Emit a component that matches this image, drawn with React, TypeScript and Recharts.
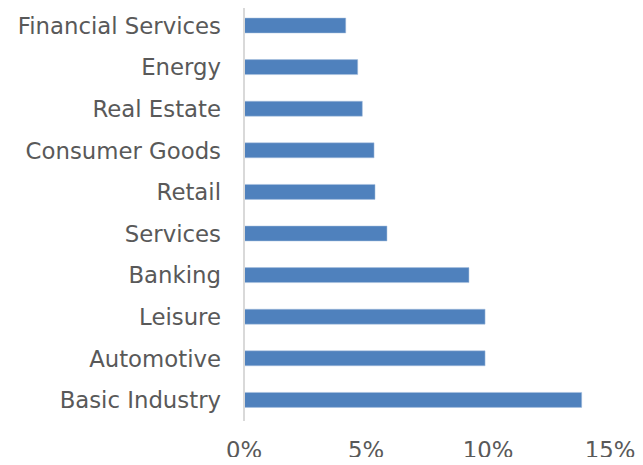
import React from 'react';
import { BarChart, Bar, XAxis, YAxis } from 'recharts';

const sectors = [
  'Financial Services',
  'Energy',
  'Real Estate',
  'Consumer Goods',
  'Retail',
  'Services',
  'Banking',
  'Leisure',
  'Automotive',
  'Basic Industry',
];

const weights = [0.0417, 0.0466, 0.0485, 0.0533, 0.0537, 0.0586, 0.0922, 0.0988, 0.0988, 0.1384];

const xTicks = [0, 0.05, 0.1, 0.15];

const data = sectors.map((name, i) => ({ name, value: weights[i] }));

const tickStyle = { fill: '#595959', fontSize: 22.8, fontFamily: 'DejaVu Sans' };

export default function App() {
  return (
    <div style={{ margin: -8, background: '#fff' }}>
      <BarChart
        width={643}
        height={465}
        data={data}
        layout="vertical"
        margin={{ top: 5, right: 33, bottom: 10, left: 0 }}
        barCategoryGap={0}
      >
        <XAxis
          type="number"
          domain={[0, 0.15]}
          ticks={xTicks}
          tickFormatter={(v: number) => `${Math.round(v * 100)}%`}
          axisLine={false}
          tickLine={false}
          tickSize={0}
          tickMargin={21}
          height={34}
          tick={tickStyle}
          interval={0}
        />
        <YAxis
          type="category"
          dataKey="name"
          width={244}
          axisLine={{ stroke: '#d9d9d9', strokeWidth: 2 }}
          tickLine={false}
          tickSize={0}
          tickMargin={23}
          tick={tickStyle}
          interval={0}
        />
        <Bar dataKey="value" fill="#4F81BD" stroke="#a9c0de" strokeWidth={0.5} barSize={15} isAnimationActive={false} />
      </BarChart>
    </div>
  );
}
